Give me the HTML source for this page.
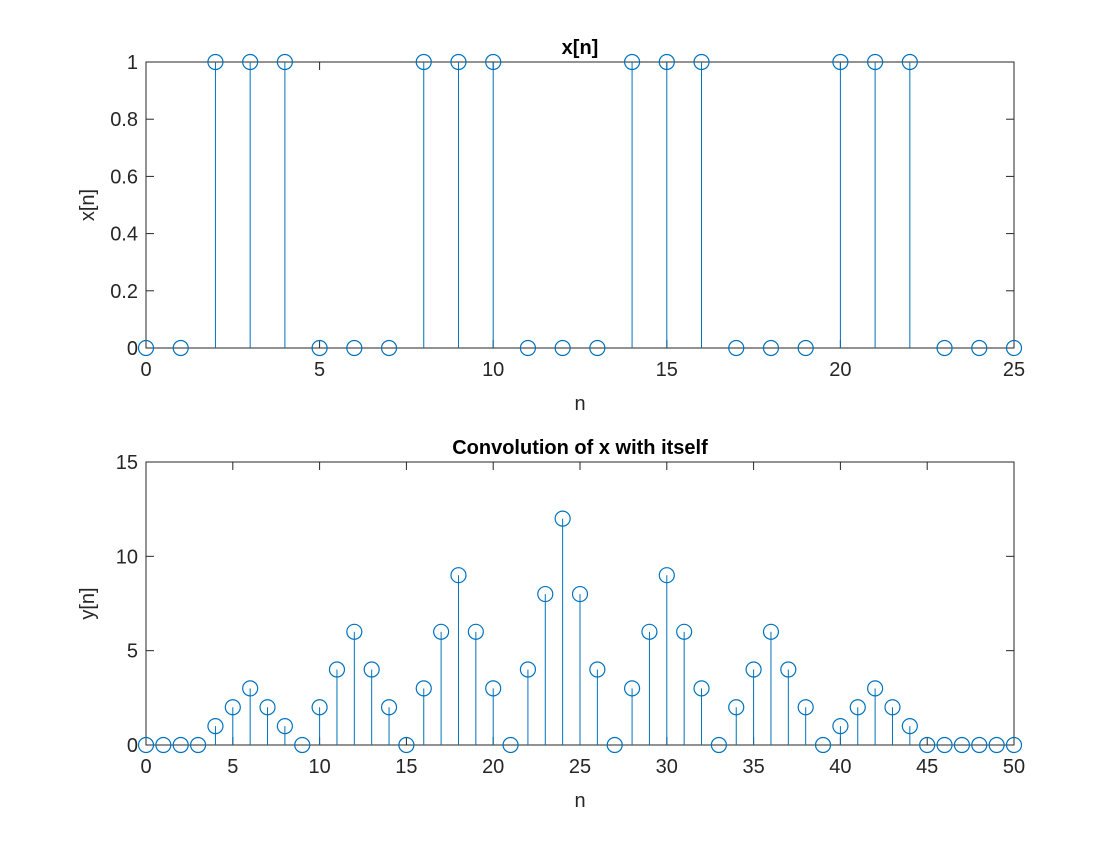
<!DOCTYPE html>
<html><head><meta charset="utf-8"><style>
body{margin:0;background:#fff;}
svg text{font-family:"Liberation Sans",sans-serif;fill:#262626;}
</style></head><body>
<svg id="fig" width="1120" height="840" xmlns="http://www.w3.org/2000/svg"></svg>
<script>
const xCats=[...Array(26).keys()];
const xVals=[0,0,1,1,1,0,0,0,1,1,1,0,0,0,1,1,1,0,0,0,1,1,1,0,0,0];
const xTicksX=[0,5,10,15,20,25];
const xTicksY=[0,0.2,0.4,0.6,0.8,1];
const yCats=[...Array(51).keys()];
const yVals=[0,0,0,0,1,2,3,2,1,0,2,4,6,4,2,0,3,6,9,6,3,0,4,8,12,8,4,0,3,6,9,6,3,0,2,4,6,4,2,0,1,2,3,2,1,0,0,0,0,0,0];
const yTicksX=[0,5,10,15,20,25,30,35,40,45,50];
const yTicksY=[0,5,10,15];
const NS="http://www.w3.org/2000/svg";
const svg=document.getElementById('fig');
function mk(tag,attrs,parent){const e=document.createElementNS(NS,tag);for(const k in attrs)e.setAttribute(k,attrs[k]);(parent||svg).appendChild(e);return e;}
function panel(o){
  const g=mk('g',{});
  
  
  const sx=v=>o.x0+(v-o.xmin)/(o.xmax-o.xmin)*(o.x1-o.x0);
  const sy=v=>o.y0-(v-o.ymin)/(o.ymax-o.ymin)*(o.y0-o.y1);
  const box=mk('rect',{x:o.x0,y:o.y1,width:o.x1-o.x0,height:o.y0-o.y1,fill:'#fff',stroke:'#262626','stroke-width':1},g);
  
  
  o.tx.forEach(t=>{
    mk('line',{x1:sx(t),x2:sx(t),y1:o.y0,y2:o.y0-8,stroke:'#262626'},g);
    mk('line',{x1:sx(t),x2:sx(t),y1:o.y1,y2:o.y1+8,stroke:'#262626'},g);
    const tt=mk('text',{x:sx(t),y:o.y0+28,'font-size':20,'text-anchor':'middle'},g);tt.textContent=t;
    
    
  });
  o.ty.forEach(t=>{
    mk('line',{x1:o.x0,x2:o.x0+8,y1:sy(t),y2:sy(t),stroke:'#262626'},g);
    mk('line',{x1:o.x1,x2:o.x1-8,y1:sy(t),y2:sy(t),stroke:'#262626'},g);
    const tt=mk('text',{x:o.x0-8,y:sy(t)+7,'font-size':20,'text-anchor':'end'},g);tt.textContent=t;
    
    
  });
  o.cats.forEach((c,i)=>{
    const v=o.vals[i];
    const st=mk('line',{x1:sx(c),x2:sx(c),y1:sy(0),y2:sy(v),stroke:'#0072BD','stroke-width':1},g);
    
    
    const m=mk('circle',{cx:sx(c),cy:sy(v),r:7.5,fill:'none',stroke:'#0072BD','stroke-width':1.2},g);
    
    
  });
  const ti=mk('text',{x:(o.x0+o.x1)/2,y:o.y1-8,'font-size':20,'font-weight':'bold','text-anchor':'middle',style:'fill:#000'},g);ti.textContent=o.title;
  
  
  const xl=mk('text',{x:(o.x0+o.x1)/2,y:o.y0+62,'font-size':20,'text-anchor':'middle'},g);xl.textContent='n';
  
  
  const yx=o.x0-52,yy=(o.y0+o.y1)/2;
  const yl=mk('text',{x:yx,y:yy,'font-size':20,'text-anchor':'middle',transform:`rotate(-90 ${yx} ${yy})`},g);yl.textContent=o.ylabel;
  
  
}
panel({name:'top-panel',x0:146,x1:1014,y0:348,y1:62,xmin:0,xmax:25,ymin:0,ymax:1,tx:xTicksX,ty:xTicksY,cats:xCats,vals:xVals,title:'x[n]',ylabel:'x[n]'});
panel({name:'bottom-panel',x0:146,x1:1014,y0:745,y1:462,xmin:0,xmax:50,ymin:0,ymax:15,tx:yTicksX,ty:yTicksY,cats:yCats,vals:yVals,title:'Convolution of x with itself',ylabel:'y[n]'});
</script>
</body></html>
